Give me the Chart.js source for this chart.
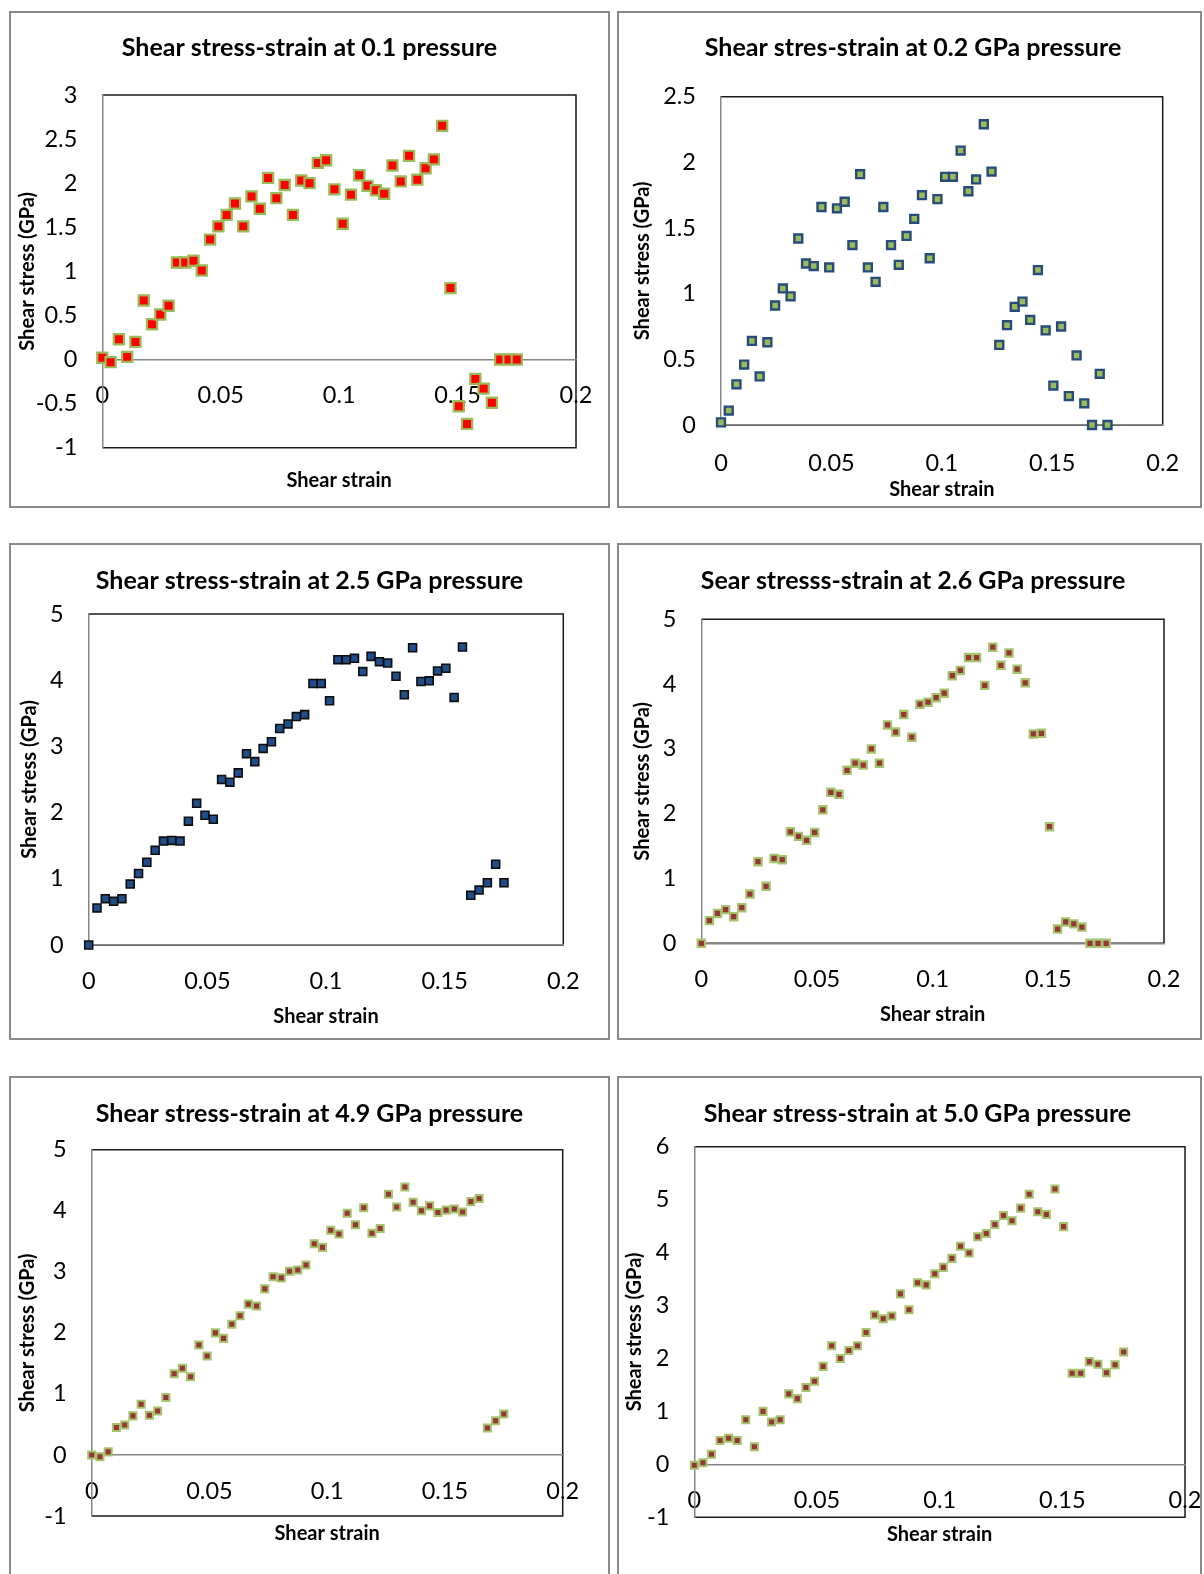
<!DOCTYPE html>
<html>
<head>
<meta charset="utf-8">
<title>Shear stress-strain</title>
<script src="https://cdn.jsdelivr.net/npm/chart.js"></script>
<style>
  body { margin: 0; background: #fff; width: 1204px; height: 1574px; overflow: hidden; position: relative; }
  .panel { position: absolute; border: 2px solid #8a8a8a; box-sizing: border-box; }
  .panel canvas { position: absolute; left: -2px; top: -2px; }
</style>
</head>
<body>
<div class="panel" id="p0"><canvas id="c0"></canvas></div>
<div class="panel" id="p1"><canvas id="c1"></canvas></div>
<div class="panel" id="p2"><canvas id="c2"></canvas></div>
<div class="panel" id="p3"><canvas id="c3"></canvas></div>
<div class="panel" id="p4"><canvas id="c4"></canvas></div>
<div class="panel" id="p5"><canvas id="c5"></canvas></div>
<script>
// shear strain steps shared by every run
var strain = [0, 0.0035, 0.007, 0.0105, 0.014, 0.0175, 0.021, 0.0245, 0.028, 0.0315,
  0.035, 0.0385, 0.042, 0.0455, 0.049, 0.0525, 0.056, 0.0595, 0.063, 0.0665,
  0.07, 0.0735, 0.077, 0.0805, 0.084, 0.0875, 0.091, 0.0945, 0.098, 0.1015,
  0.105, 0.1085, 0.112, 0.1155, 0.119, 0.1225, 0.126, 0.1295, 0.133, 0.1365,
  0.14, 0.1435, 0.147, 0.1505, 0.154, 0.1575, 0.161, 0.1645, 0.168, 0.1715, 0.175];

// shear stress (GPa) at each pressure
var stress01 = [0.02, -0.03, 0.23, 0.03, 0.20, 0.67, 0.40, 0.51, 0.61, 1.10,
  1.10, 1.12, 1.01, 1.36, 1.51, 1.64, 1.77, 1.51, 1.85, 1.71,
  2.06, 1.83, 1.98, 1.64, 2.03, 2.00, 2.23, 2.26, 1.93, 1.54,
  1.87, 2.09, 1.97, 1.92, 1.88, 2.20, 2.02, 2.31, 2.04, 2.17,
  2.27, 2.65, 0.81, -0.53, -0.73, -0.22, -0.33, -0.49, 0, 0, 0];
var stress02 = [0.02, 0.11, 0.31, 0.46, 0.64, 0.37, 0.63, 0.91, 1.04, 0.98,
  1.42, 1.23, 1.21, 1.66, 1.20, 1.65, 1.70, 1.37, 1.91, 1.20,
  1.09, 1.66, 1.37, 1.22, 1.44, 1.57, 1.75, 1.27, 1.72, 1.89,
  1.89, 2.09, 1.78, 1.87, 2.29, 1.93, 0.61, 0.76, 0.90, 0.94,
  0.80, 1.18, 0.72, 0.30, 0.75, 0.22, 0.53, 0.165, 0, 0.39, 0];
var stress25 = [0, 0.56, 0.70, 0.66, 0.70, 0.92, 1.08, 1.25, 1.43, 1.57,
  1.58, 1.57, 1.87, 2.14, 1.96, 1.90, 2.50, 2.46, 2.60, 2.89,
  2.77, 2.97, 3.07, 3.27, 3.34, 3.45, 3.48, 3.95, 3.95, 3.69,
  4.31, 4.31, 4.33, 4.13, 4.36, 4.28, 4.26, 4.06, 3.78, 4.49,
  3.98, 3.99, 4.14, 4.18, 3.74, 4.50, 0.75, 0.83, 0.94, 1.22, 0.94];
var stress26 = [0, 0.35, 0.46, 0.52, 0.41, 0.55, 0.76, 1.26, 0.88, 1.31,
  1.29, 1.72, 1.65, 1.59, 1.71, 2.06, 2.33, 2.30, 2.67, 2.78,
  2.75, 3.00, 2.78, 3.37, 3.26, 3.53, 3.18, 3.69, 3.72, 3.79,
  3.86, 4.13, 4.21, 4.41, 4.41, 3.98, 4.57, 4.29, 4.48, 4.23,
  4.02, 3.23, 3.24, 1.80, 0.22, 0.33, 0.30, 0.25, 0, 0, 0];
var stress49 = [0, -0.03, 0.05, 0.45, 0.49, 0.64, 0.83, 0.65, 0.72, 0.94,
  1.33, 1.42, 1.28, 1.80, 1.62, 2.00, 1.91, 2.14, 2.28, 2.47,
  2.44, 2.72, 2.92, 2.90, 3.01, 3.03, 3.11, 3.46, 3.40, 3.68,
  3.62, 3.96, 3.77, 4.05, 3.63, 3.71, 4.27, 4.06, 4.39, 4.14,
  4.00, 4.08, 3.97, 4.01, 4.03, 3.98, 4.15, 4.20, 0.44, 0.56, 0.67];
var stress50 = [-0.02, 0.03, 0.19, 0.45, 0.49, 0.45, 0.84, 0.33, 1.00, 0.80,
  0.84, 1.33, 1.24, 1.45, 1.57, 1.85, 2.24, 2.00, 2.15, 2.24,
  2.49, 2.82, 2.75, 2.80, 3.22, 2.92, 3.43, 3.39, 3.60, 3.72,
  3.89, 4.12, 3.99, 4.30, 4.36, 4.53, 4.70, 4.60, 4.84, 5.10,
  4.77, 4.72, 5.20, 4.49, 1.72, 1.72, 1.94, 1.89, 1.73, 1.88, 2.12];

var titles = [
  "Shear stress-strain at 0.1 pressure",
  "Shear stres-strain at 0.2 GPa pressure",
  "Shear stress-strain at 2.5 GPa pressure",
  "Sear stresss-strain at 2.6 GPa pressure",
  "Shear stress-strain at 4.9 GPa pressure",
  "Shear stress-strain at 5.0 GPa pressure"
];
// y axis [min, max, step] for each panel
var yRanges = [[-1, 3, 0.5], [0, 2.5, 0.5], [0, 5, 1], [0, 5, 1], [-1, 5, 1], [-1, 6, 1]];
var xRange = [0, 0.2, 0.05];
var xLabel = "Shear strain";
var yLabel = "Shear stress (GPa)";

// page geometry: panel box [left, top, w, h], plot box [l, t, r, b],
// title / axis title centres, and how far the title sits right of the panel centre
var layout = [
  {box: [9, 11, 601, 497],    plot: [102.3, 95, 576, 447.7],      title: 47.5,   xTitle: 481,  yTitle: 28,    tickPad: 22,   shift: 0},
  {box: [617, 11, 585, 497],  plot: [721, 96.7, 1162.7, 425],     title: 47.5,   xTitle: 490,  yTitle: 642.6, tickPad: 24,   shift: 3.5},
  {box: [9, 543, 601, 497],   plot: [88.7, 614, 563.3, 945],      title: 581.3,  xTitle: 1017, yTitle: 30,    tickPad: 22,   shift: 0},
  {box: [617, 543, 585, 497], plot: [701.3, 619.3, 1164, 943.3],  title: 581,    xTitle: 1015, yTitle: 642.6, tickPad: 22.5, shift: 3.5},
  {box: [9, 1076, 601, 520],  plot: [91.7, 1149.7, 562.7, 1516],  title: 1114.4, xTitle: 1534, yTitle: 28,    tickPad: 22,   shift: 0},
  {box: [617, 1076, 585, 520],plot: [694.3, 1146.7, 1185, 1517.2],title: 1114.4, xTitle: 1535, yTitle: 634.5, tickPad: 22,   shift: 8}
];

var markers = [
  {fill: '#ff0000', edge: '#9bbb59', r: 7.2, w: 2.2},
  {fill: '#9bbb59', edge: '#264b7c', r: 5.6, w: 2.4},
  {fill: '#1f4e8a', edge: '#0d0d0d', r: 5.6, w: 1.6},
  {fill: '#953735', edge: '#a6c46e', r: 5.2, w: 2.1},
  {fill: '#953735', edge: '#a6c46e', r: 5.0, w: 2.0},
  {fill: '#953735', edge: '#a6c46e', r: 5.0, w: 2.0}
];
var series = [stress01, stress02, stress25, stress26, stress49, stress50];

var FONT = 'Lato, "Open Sans", sans-serif';
var TITLE_SIZE = 25, AXIS_TITLE_SIZE = 20, TICK_SIZE = 23.5;

function plainNumber(v) {
  return String(+(+v).toFixed(4));
}

// dark frame on the top / right / bottom of the plot area; axes are drawn over it
var plotFrame = {
  id: 'plotFrame',
  beforeDraw: function (chart) {
    var a = chart.chartArea, ctx = chart.ctx;
    ctx.save();
    ctx.strokeStyle = '#1a1a1a';
    ctx.lineWidth = 1.5;
    ctx.beginPath();
    ctx.moveTo(a.left, a.top);
    ctx.lineTo(a.right, a.top);
    ctx.lineTo(a.right, a.bottom);
    ctx.lineTo(a.left, a.bottom);
    ctx.stroke();
    ctx.restore();
  }
};

function noPadding(s) {
  s.paddingLeft = 0;
  s.paddingRight = 0;
  s.paddingTop = 0;
  s.paddingBottom = 0;
}

function drawPanel(n) {
  var g = layout[n], m = markers[n], yr = yRanges[n];
  var L = g.box[0], T = g.box[1], W = g.box[2], H = g.box[3];
  var padLeft = 2 * g.shift;
  var leftW = g.plot[0] - L - padLeft;
  var rightW = W - (g.plot[2] - L);
  var topH = g.plot[1] - T;
  var bottomH = H - (g.plot[3] - T);

  var div = document.getElementById('p' + n);
  div.style.left = L + 'px';
  div.style.top = T + 'px';
  div.style.width = W + 'px';
  div.style.height = H + 'px';
  var canvas = document.getElementById('c' + n);
  canvas.width = W;
  canvas.height = H;
  canvas.style.width = W + 'px';
  canvas.style.height = H + 'px';

  var pts = strain.map(function (x, i) { return {x: x, y: series[n][i]}; });

  var tPadTop = g.title - T - 0.6 * TITLE_SIZE;
  var sPadTop = g.xTitle - g.plot[3] - 0.6 * AXIS_TITLE_SIZE;

  new Chart(canvas, {
    type: 'scatter',
    data: {
      datasets: [{
        data: pts,
        xAxisID: 'x',
        yAxisID: 'y',
        pointStyle: 'rect',
        pointRadius: m.r,
        pointBorderWidth: m.w,
        backgroundColor: m.fill,
        borderColor: m.edge,
        clip: false
      }]
    },
    options: {
      responsive: false,
      animation: false,
      events: [],
      layout: {padding: {left: padLeft, right: 0, top: 0, bottom: 0}},
      plugins: {
        legend: {display: false},
        tooltip: {enabled: false},
        title: {
          display: true,
          text: titles[n],
          color: '#000',
          font: {family: FONT, weight: 'bold', size: TITLE_SIZE, lineHeight: 1.2},
          padding: {top: tPadTop, bottom: topH - tPadTop - 1.2 * TITLE_SIZE}
        },
        subtitle: {
          display: true,
          position: 'bottom',
          fullSize: false,
          text: xLabel,
          color: '#000',
          font: {family: FONT, weight: 'bold', size: AXIS_TITLE_SIZE, lineHeight: 1.2},
          padding: {top: sPadTop, bottom: bottomH - sPadTop - 1.2 * AXIS_TITLE_SIZE}
        }
      },
      scales: {
        x: {
          type: 'linear',
          position: {y: 0},
          min: xRange[0],
          max: xRange[1],
          ticks: {
            stepSize: xRange[2],
            padding: g.tickPad,
            color: '#000',
            font: {family: FONT, size: TICK_SIZE},
            maxRotation: 0,
            autoSkip: false,
            callback: plainNumber
          },
          grid: {drawOnChartArea: false, drawTicks: false},
          border: {color: '#868686', width: 1.5},
          afterFit: noPadding
        },
        y: {
          type: 'linear',
          position: 'left',
          min: yr[0],
          max: yr[1],
          ticks: {
            stepSize: yr[2],
            padding: 25,
            color: '#000',
            font: {family: FONT, size: TICK_SIZE},
            callback: plainNumber
          },
          grid: {drawOnChartArea: false, drawTicks: false},
          border: {color: '#868686', width: 1.5},
          title: {
            display: true,
            text: yLabel,
            color: '#000',
            font: {family: FONT, weight: 'bold', size: AXIS_TITLE_SIZE, lineHeight: 1.2},
            padding: {top: g.yTitle - L - padLeft - 0.6 * AXIS_TITLE_SIZE, bottom: 0}
          },
          afterFit: function (s) { s.width = leftW; noPadding(s); }
        },
        // empty right-hand axis only reserves the margin so the title stays centred on the panel
        gap: {
          type: 'linear',
          position: 'right',
          ticks: {display: false},
          grid: {display: false, drawTicks: false},
          border: {display: false},
          afterFit: function (s) { s.width = rightW; noPadding(s); }
        }
      }
    },
    plugins: [plotFrame]
  });
}

for (var i = 0; i < 6; i++) drawPanel(i);
</script>
</body>
</html>
